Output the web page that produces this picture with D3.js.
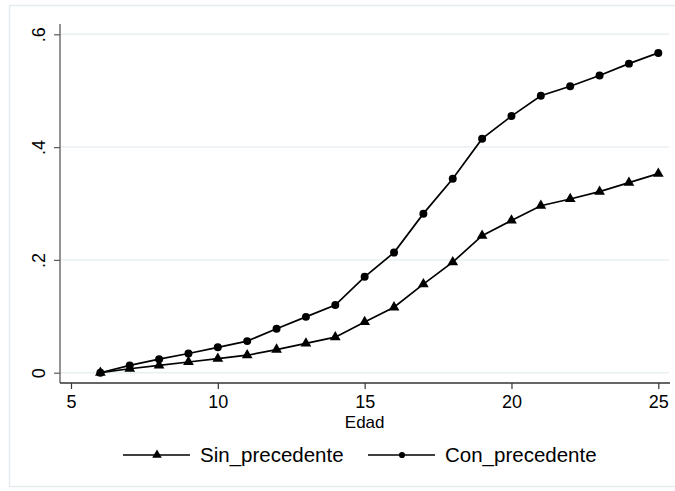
<!DOCTYPE html>
<html>
<head>
<meta charset="utf-8">
<script src="https://cdn.jsdelivr.net/npm/d3@7"></script>
<style>
  html, body { margin: 0; padding: 0; background: #ffffff; }
  svg { display: block; }
  text { font-family: "Liberation Sans", Arial, sans-serif; fill: #000; }
</style>
</head>
<body>
<svg id="chart" width="675" height="491"></svg>
<script>
// Age (years)
const edad = [6, 7, 8, 9, 10, 11, 12, 13, 14, 15, 16, 17, 18, 19, 20, 21, 22, 23, 24, 25];

// Cumulative proportion, group without precedent
const sinPrecedente = [0.000, 0.007, 0.013, 0.019, 0.025, 0.031, 0.041, 0.052, 0.063, 0.090,
                       0.116, 0.157, 0.196, 0.243, 0.270, 0.296, 0.308, 0.321, 0.337, 0.353];

// Cumulative proportion, group with precedent
const conPrecedente = [0.000, 0.013, 0.024, 0.034, 0.045, 0.056, 0.078, 0.099, 0.120, 0.170,
                       0.213, 0.282, 0.344, 0.415, 0.455, 0.491, 0.508, 0.527, 0.548, 0.567];

const xTicks = [5, 10, 15, 20, 25];
const yTicks = [0, 0.2, 0.4, 0.6];
const yTickLabels = ["0", ".2", ".4", ".6"];
const xTitle = "Edad";
const seriesNames = ["Sin_precedente", "Con_precedente"];

const svg = d3.select("#chart");

// Outer graph region frame
svg.append("rect")
  .attr("x", 9.5).attr("y", 5.5)
  .attr("width", 700).attr("height", 481)
  .attr("fill", "none")
  .attr("stroke", "#e4ecee")
  .attr("stroke-width", 1.5);

const plot = { left: 60, right: 670, top: 24, bottom: 383 };

const x = d3.scaleLinear().domain([5, 25]).range([71, 658.3]);
const y = d3.scaleLinear().domain([0, 0.6]).range([372.7, 34.3]);

// Horizontal grid lines
svg.append("g")
  .selectAll("line")
  .data(yTicks)
  .join("line")
  .attr("x1", plot.left).attr("x2", 669)
  .attr("y1", d => y(d)).attr("y2", d => y(d))
  .attr("stroke", "#e8f0f2")
  .attr("stroke-width", 1.5);

// Y axis
const yAxis = d3.axisLeft(y)
  .tickValues(yTicks)
  .tickSize(6)
  .tickPadding(10)
  .tickFormat((d, i) => yTickLabels[i]);

const gy = svg.append("g")
  .attr("transform", `translate(${plot.left},0)`)
  .call(yAxis);
gy.select(".domain")
  .attr("d", `M0,${plot.top}V${plot.bottom}`)
  .attr("stroke", "#5a5a5a")
  .attr("stroke-width", 1.3);
gy.selectAll(".tick line").attr("stroke", "#5a5a5a").attr("stroke-width", 1.2);
gy.selectAll(".tick text")
  .attr("font-size", 18)
  .attr("text-anchor", "middle")
  .attr("x", 0).attr("y", 0).attr("dy", 0)
  .attr("transform", "translate(-15,0) rotate(-90)");

// X axis
const xAxis = d3.axisBottom(x)
  .tickValues(xTicks)
  .tickSize(6)
  .tickPadding(6)
  .tickFormat(d3.format("d"));

const gx = svg.append("g")
  .attr("transform", `translate(0,${plot.bottom})`)
  .call(xAxis);
gx.select(".domain")
  .attr("d", `M${plot.left},0H${plot.right}`)
  .attr("stroke", "#333")
  .attr("stroke-width", 1.3);
gx.selectAll(".tick line").attr("stroke", "#333").attr("stroke-width", 1.2);
gx.selectAll(".tick text").attr("font-size", 18);

// X axis title
svg.append("text")
  .attr("x", x(15))
  .attr("y", 428)
  .attr("text-anchor", "middle")
  .attr("font-size", 17)
  .text(xTitle);

// Series
const series = [
  { name: seriesNames[0], values: sinPrecedente, symbol: d3.symbolTriangle, size: 50 },
  { name: seriesNames[1], values: conPrecedente, symbol: d3.symbolCircle, size: 50 }
];

const line = d3.line()
  .x(d => x(d[0]))
  .y(d => y(d[1]));

series.forEach(s => {
  const pts = edad.map((a, i) => [a, s.values[i]]);
  svg.append("path")
    .datum(pts)
    .attr("d", line)
    .attr("fill", "none")
    .attr("stroke", "#000")
    .attr("stroke-width", 1.7);
  svg.append("g")
    .selectAll("path")
    .data(pts)
    .join("path")
    .attr("d", d3.symbol().type(s.symbol).size(s.size))
    .attr("transform", d => `translate(${x(d[0])},${y(d[1])})`)
    .attr("fill", "#000");
});

// Legend
const legendItems = [
  { x0: 123, text: seriesNames[0], symbol: d3.symbolTriangle, size: 40 },
  { x0: 368, text: seriesNames[1], symbol: d3.symbolCircle, size: 30 }
];
const legendY = 455;
const lg = svg.append("g");
legendItems.forEach(it => {
  lg.append("line")
    .attr("x1", it.x0).attr("x2", it.x0 + 67)
    .attr("y1", legendY).attr("y2", legendY)
    .attr("stroke", "#000").attr("stroke-width", 1.7);
  lg.append("path")
    .attr("d", d3.symbol().type(it.symbol).size(it.size))
    .attr("transform", `translate(${it.x0 + 34},${legendY})`)
    .attr("fill", "#000");
  lg.append("text")
    .attr("x", it.x0 + 77)
    .attr("y", legendY + 7)
    .attr("font-size", 20.5)
    .text(it.text);
});
</script>
</body>
</html>
